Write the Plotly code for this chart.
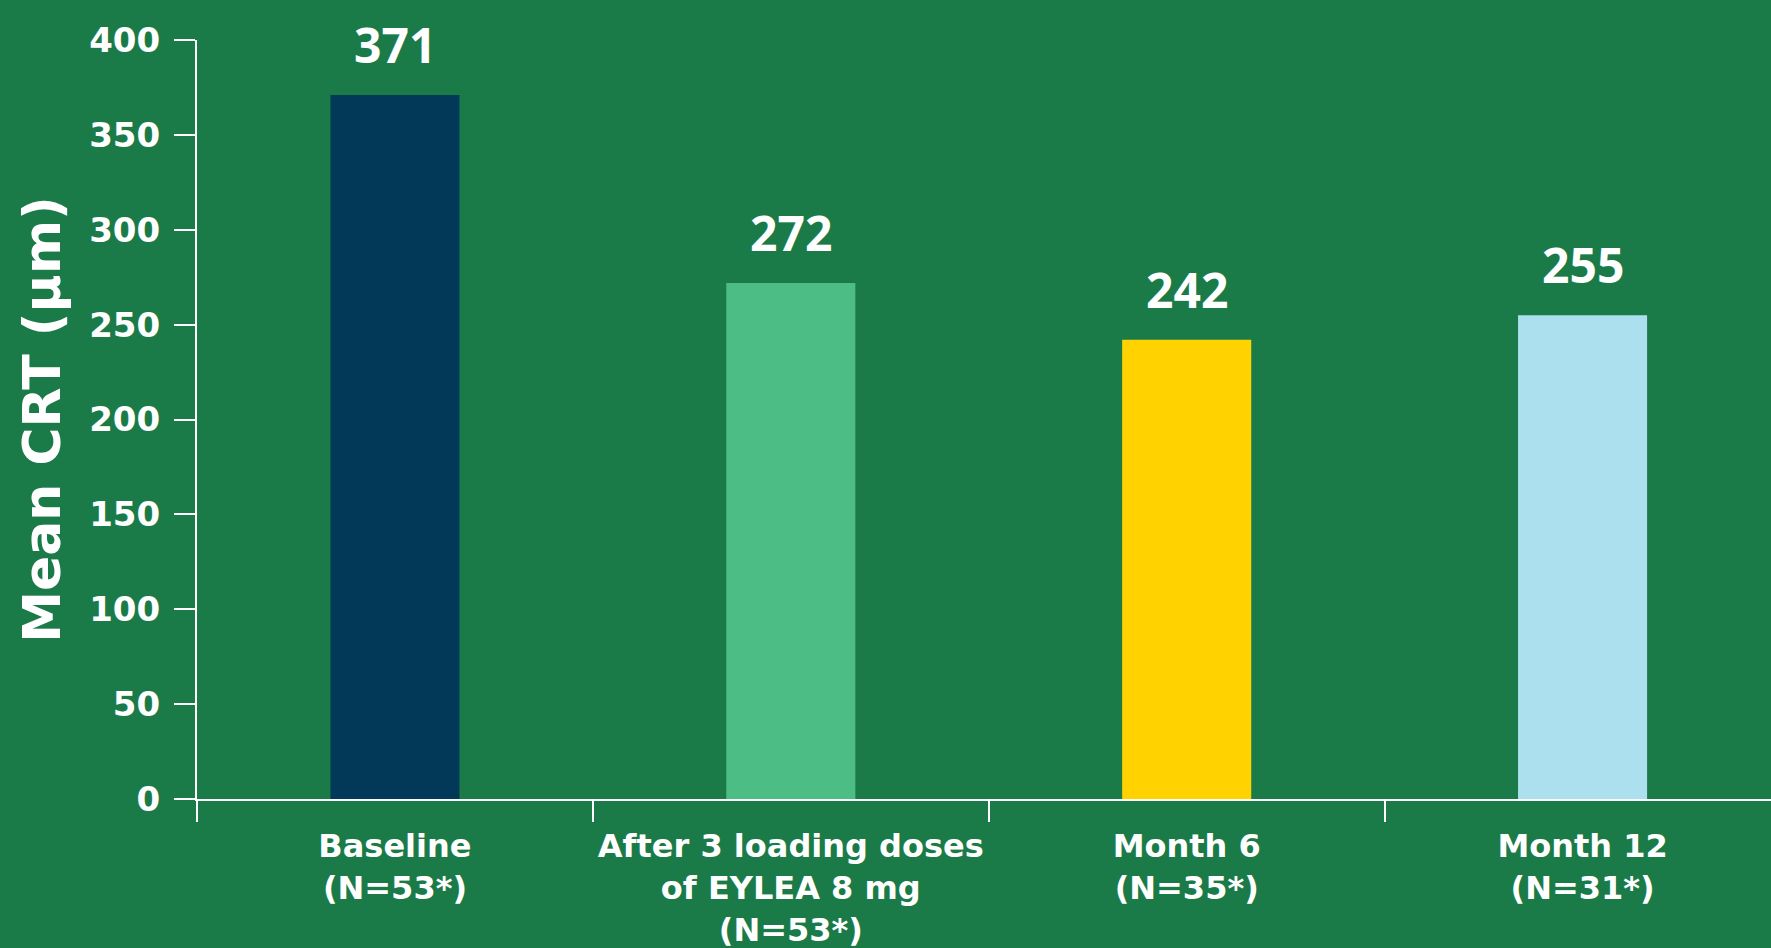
import plotly.graph_objects as go

categories = [
    "Baseline<br>(N=53*)",
    "After 3 loading doses<br>of EYLEA 8 mg<br>(N=53*)",
    "Month 6<br>(N=35*)",
    "Month 12<br>(N=31*)",
]
values = [371, 272, 242, 255]
bar_colors = ["#023959", "#4CBE85", "#FFD200", "#ADE0EE"]
y_ticks = [0, 50, 100, 150, 200, 250, 300, 350, 400]

BG = "#1B7B48"
FONT = "DejaVu Sans"
NUM_FONT = "Open Sans"

fig = go.Figure()
fig.add_trace(go.Bar(
    x=categories,
    y=values,
    marker=dict(color=bar_colors, line=dict(width=0)),
    width=0.326,
    hoverinfo="skip",
))

for c, v in zip(categories, values):
    fig.add_annotation(
        x=c, y=v, text=f"<b>{v}</b>", showarrow=False,
        yanchor="bottom", xanchor="center", yshift=16,
        font=dict(family=NUM_FONT, size=48, color="white"),
    )

fig.update_layout(
    width=1771, height=948,
    paper_bgcolor=BG, plot_bgcolor=BG,
    margin=dict(l=197, r=0, t=40, b=149, autoexpand=False),
    showlegend=False,
    font=dict(family=FONT, color="white"),
)

fig.update_xaxes(
    type="category",
    range=[-0.5, 3.476],
    automargin=False,
    tickangle=0,
    showline=True, linecolor="white", linewidth=2,
    ticks="outside", tickson="boundaries", ticklen=21, tickwidth=2, tickcolor="white",
    showgrid=False, zeroline=False,
    tickfont=dict(family=FONT, size=32, color="white", weight="bold"),
    ticklabelstandoff=18,
)
fig.update_yaxes(
    range=[0, 400],
    automargin=False,
    tickvals=y_ticks,
    showline=True, linecolor="white", linewidth=2,
    ticks="outside", ticklen=21, tickwidth=2, tickcolor="white",
    showgrid=False, zeroline=False,
    tickfont=dict(family=FONT, size=34, color="white", weight="bold"),
    ticklabelstandoff=7,
    title=dict(text="<b>Mean CRT (µm)</b>", font=dict(family=FONT, size=52, color="white"), standoff=12),
)

fig.write_html(
    "out.html",
    config={"displayModeBar": False},
    post_script="document.body.style.margin='0';document.body.style.overflow='hidden';",
)
